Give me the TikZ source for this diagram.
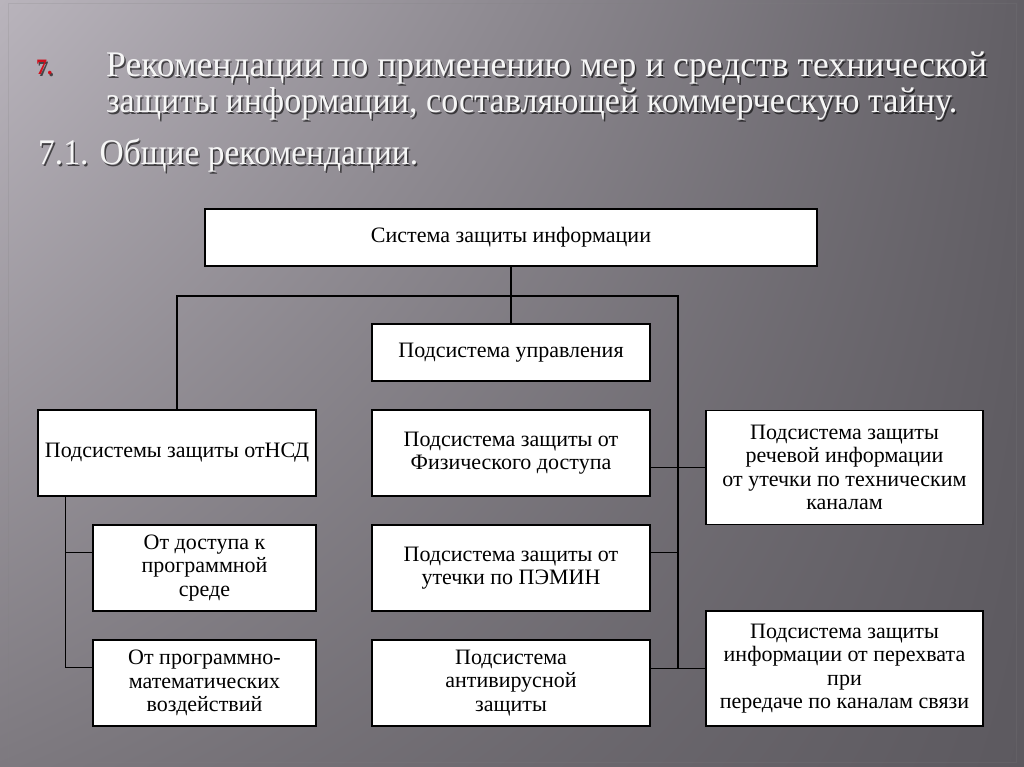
\documentclass[tikz,border=0pt]{standalone}
\usepackage{fontspec}
\setmainfont{Liberation Serif}
\usetikzlibrary{positioning,shadings}

\definecolor{bgUL}{HTML}{B9B4BC}
\definecolor{bgUR}{HTML}{625F65}
\definecolor{bgLL}{HTML}{7D797F}
\definecolor{bgLR}{HTML}{5C595F}
\definecolor{titlefg}{HTML}{F6F6F6}
\definecolor{numred}{HTML}{D0101C}

\tikzset{
  box/.style={draw=black, line width=1.4pt, fill=white, align=center,
    inner sep=0pt, font=\fontsize{22}{23.5}\selectfont},
  wire/.style={line width=1.4pt},
  ttl/.style={anchor=base west, inner sep=0pt, text=titlefg,
    font=\fontsize{36}{36}\selectfont},
  ttlshadow/.style={ttl, text=black, opacity=0.6},
}

\begin{document}
\begin{tikzpicture}[x=1pt,y=-1pt]
\useasboundingbox (0,0) rectangle (1024,767);

% background
\shade[upper left=bgUL, upper right=bgUR, lower left=bgLL, lower right=bgLR]
  (0,0) rectangle (1024,767);
\draw[black!50, opacity=0.2, line width=0.8pt] (8,3) rectangle (1016,762);

% heading
\node[ttlshadow, text=black, font=\fontsize{22}{22}\bfseries] (n7s) at (37.5,76.5) {7.};
\node[ttl, text=numred, font=\fontsize{22}{22}\bfseries] (n7) at (36,75) {7.};

\node[ttlshadow] (t1s) at (107.5,78.5)
  {\resizebox{881pt}{\height}{Рекомендации по применению мер и средств технической}};
\node[ttl] (t1) at (106,77)
  {\resizebox{881pt}{\height}{Рекомендации по применению мер и средств технической}};
\node[ttlshadow] (t2s) at (107.5,114.5)
  {\resizebox{851pt}{\height}{защиты информации, составляющей коммерческую тайну.}};
\node[ttl] (t2) at (106,113)
  {\resizebox{851pt}{\height}{защиты информации, составляющей коммерческую тайну.}};
\node[ttlshadow] (t3s) at (39.5,166.5)
  {\resizebox{380pt}{\height}{7.1. Общие рекомендации.}};
\node[ttl] (t3) at (38,165)
  {\resizebox{380pt}{\height}{7.1. Общие рекомендации.}};

% boxes
\node[box, minimum width=612pt, minimum height=57pt] (sys) at (511,237.5)
  {Система защиты информации};
\node[box, minimum width=278pt, minimum height=57pt] (upr) at (511,352.5)
  {Подсистема управления};
\node[box, minimum width=278pt, minimum height=86pt] (nsd) at (177,453)
  {Подсистемы защиты отНСД};
\node[box, minimum width=278pt, minimum height=86pt] (phys) at (511,453)
  {Подсистема защиты от\\Физического доступа};
\node[box, minimum width=277pt, minimum height=114pt] (speech) at (844.5,467.5)
  {Подсистема защиты\\речевой информации\\от утечки по техническим\\каналам};
\node[box, minimum width=223pt, minimum height=86pt] (soft) at (204.5,568)
  {От доступа к\\программной\\среде};
\node[box, minimum width=278pt, minimum height=86pt] (pemin) at (511,568)
  {Подсистема защиты от\\утечки по ПЭМИН};
\node[box, minimum width=223pt, minimum height=86pt] (math) at (204.5,683)
  {От программно-\\математических\\воздействий};
\node[box, minimum width=278pt, minimum height=86pt] (antivir) at (511,683)
  {Подсистема\\антивирусной\\защиты};
\node[box, minimum width=277pt, minimum height=115pt] (intercept) at (844.5,668.5)
  {Подсистема защиты\\информации от перехвата\\при\\передаче по каналам связи};

% connectors
\coordinate (bus) at (678,296);
\coordinate (lt) at ([xshift=28pt]nsd.south west);
\coordinate (softin) at ([yshift=-28pt]soft.north west);
\coordinate (mathin) at ([yshift=-28pt]math.north west);
\coordinate (peminout) at ([yshift=-28pt]pemin.north east);

\draw[wire] (sys.south) -- (upr.north);
\draw[wire] (nsd.north) |- (bus) -- (bus |- intercept.west);
\draw[wire] (phys.east |- speech.west) -- (speech.west);
\draw[wire] (peminout) -- (peminout -| bus);
\draw[wire] (antivir.east |- intercept.west) -- (intercept.west);
\draw[wire] (lt) |- (mathin);
\draw[wire] (softin) -- (softin -| lt);
\end{tikzpicture}
\end{document}
